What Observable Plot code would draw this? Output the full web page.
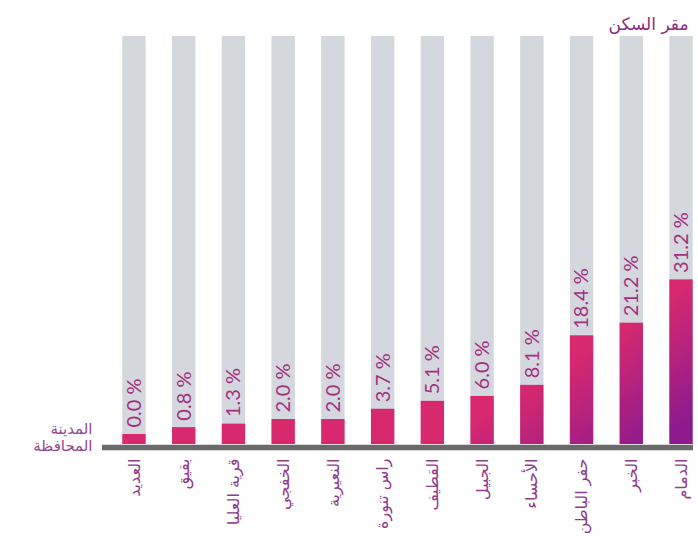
<!DOCTYPE html>
<html><head><meta charset="utf-8">
<script src="https://cdn.jsdelivr.net/npm/d3@7"></script>
<script src="https://cdn.jsdelivr.net/npm/@observablehq/plot@0.6"></script>
<style>body{margin:0;background:#fff}</style>
</head><body><div id="chart"></div>
<script>
const cities = ["العديد","بقيق","قرية العليا","الخفجي","النعيرية","راس تنورة","القطيف","الجبيل","الأحساء","حفر الباطن","الخبر","الدمام"];
const shares = [0.0, 0.8, 1.3, 2.0, 2.0, 3.7, 5.1, 6.0, 8.1, 18.4, 21.2, 31.2];
const title = "مقر السكن";
const rowLabel = "المدينة\nالمحافظة";

const data = cities.map((city, i) => ({city, share: shares[i]}));
const yBase = -1.245, yTop = 94.9;
const arabicFont = "'DejaVu Sans', sans-serif";

const plot = Plot.plot({
  width: 698, height: 538,
  marginLeft: 102, marginRight: 5, marginTop: 36, marginBottom: 94,
  style: {fontFamily: "Lato, 'DejaVu Sans', sans-serif", background: "#fff"},
  x: {domain: cities, range: [122.3, 692.7], paddingInner: 0.53, paddingOuter: 0, round: false, axis: null},
  y: {type: "pow", exponent: 0.85, domain: [yBase, yTop], range: [444, 36], axis: null},
  marks: [
    Plot.barY(data, {x: "city", y1: yBase, y2: yTop, fill: "#d4d7dd"}),
    Plot.barY(data, {x: "city", y1: yBase, y2: "share", fill: "url(#barGrad)"}),
    Plot.ruleY([yBase], {stroke: "#6a6a6a", strokeWidth: 5.5, dy: 3}),
    Plot.text(data, {x: "city", y: "share", text: d => d.share.toFixed(1) + " %", rotate: -90, textAnchor: "start", dy: -7, fontSize: 20, fill: "#a3307e"}),
    Plot.text(data, {x: "city", y: yBase, text: "city", rotate: -90, textAnchor: "end", dy: 14, fontSize: 16, fill: "#8e3d8c", fontFamily: arabicFont}),
    Plot.text([rowLabel], {frameAnchor: "left", y: yBase, text: d => d, textAnchor: "end", lineAnchor: "bottom", dx: -10, dy: 6, lineHeight: 1.1, fontSize: 15, fill: "#94468f", fontFamily: arabicFont}),
    Plot.text([title], {frameAnchor: "top-right", text: d => d, textAnchor: "end", dx: -5, dy: -19, fontSize: 17, fill: "#8b2c7d", fontFamily: arabicFont})
  ]
});

const ns = "http://www.w3.org/2000/svg";
const defs = document.createElementNS(ns, "defs");
const lg = document.createElementNS(ns, "linearGradient");
lg.setAttribute("id", "barGrad");
lg.setAttribute("gradientUnits", "userSpaceOnUse");
lg.setAttribute("x1", 437); lg.setAttribute("y1", 444);
lg.setAttribute("x2", 499.5); lg.setAttribute("y2", 540.5);
[["0", "#d8296f"], ["1", "#8e1b8d"]].forEach(([o, c]) => {
  const s = document.createElementNS(ns, "stop");
  s.setAttribute("offset", o); s.setAttribute("stop-color", c);
  lg.appendChild(s);
});
defs.appendChild(lg);
plot.insertBefore(defs, plot.firstChild);
document.getElementById("chart").appendChild(plot);
</script>
</body></html>
